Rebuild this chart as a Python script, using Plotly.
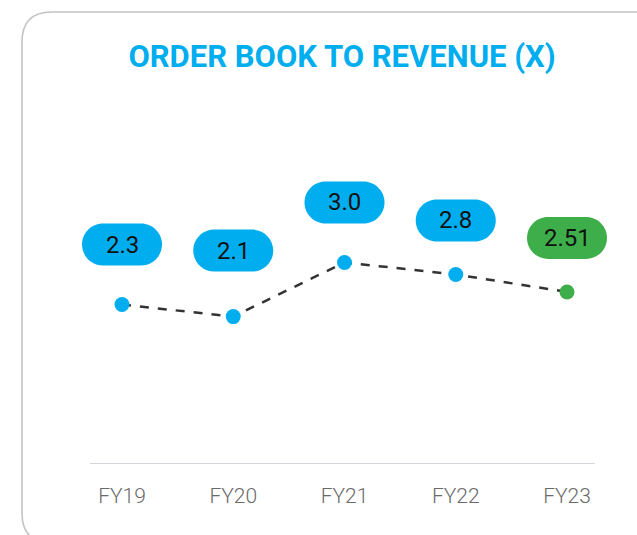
import plotly.graph_objects as go

categories = ["FY19", "FY20", "FY21", "FY22", "FY23"]
values = [2.3, 2.1, 3.0, 2.8, 2.51]
labels = ["2.3", "2.1", "3.0", "2.8", "2.51"]
title_text = "ORDER BOOK TO REVENUE (X)"

BLUE = "#00AEEF"
GREEN = "#3DAE4A"
point_colors = [BLUE, BLUE, BLUE, BLUE, GREEN]
label_shift = [60, 66, 60, 54, 54]  # pill offset above point (px)

W, H = 637, 535
ML, MR, MT, MB = 40, 10, 100, 71
PX_PER_CAT = 111.25
X0 = -(122 - ML) / PX_PER_CAT
X1 = X0 + (W - ML - MR) / PX_PER_CAT
AX_LEFT = -0.288
AX_RIGHT = 4.251
Y_RANGE = [-0.35, 5.70]

fig = go.Figure()
fig.add_trace(go.Scatter(
    x=list(range(len(categories))), y=values, mode="lines+markers",
    line=dict(color="#333333", width=2.5, dash="dash"),
    marker=dict(color=point_colors, size=15),
    hoverinfo="skip", showlegend=False,
))


def pill_path(w, h, cy):
    r = h / 2.0
    s = w / 2.0 - r
    k = 0.5523 * r
    return (f"M {-s},{cy - r} L {s},{cy - r} "
            f"C {s + k},{cy - r} {s + r},{cy - k} {s + r},{cy} "
            f"C {s + r},{cy + k} {s + k},{cy + r} {s},{cy + r} "
            f"L {-s},{cy + r} "
            f"C {-s - k},{cy + r} {-s - r},{cy + k} {-s - r},{cy} "
            f"C {-s - r},{cy - k} {-s - k},{cy - r} {-s},{cy - r} Z")


shapes = []
annotations = []
for i, (v, lab, col, sh) in enumerate(zip(values, labels, point_colors, label_shift)):
    shapes.append(dict(
        type="path", xref="x", yref="y", xsizemode="pixel", ysizemode="pixel",
        xanchor=i, yanchor=v, path=pill_path(80, 42, sh),
        fillcolor=col, line=dict(width=0), layer="above",
    ))
    annotations.append(dict(
        x=i, y=v, xref="x", yref="y", text=lab, showarrow=False,
        yshift=sh, font=dict(family="Roboto", size=24, color="#111111"),
    ))

# card border (rounded corners, extends beyond right/bottom edges)
R = 30
left = 22 - ML
BORDER = dict(color="#C4C4C4", width=1.6)
shapes.append(dict(
    type="path", xref="paper", yref="paper", xsizemode="pixel", ysizemode="pixel",
    xanchor=0, yanchor=1,
    path=(f"M {left},{-(513 - MT)} L {left},{-(12 + R - MT)} "
          f"Q {left},{-(12 - MT)} {left + R},{-(12 - MT)} L {W},{-(12 - MT)}"),
    line=BORDER, layer="below",
))
shapes.append(dict(
    type="path", xref="paper", yref="paper", xsizemode="pixel", ysizemode="pixel",
    xanchor=0, yanchor=1,
    path=f"M {left},{-(513 - MT)} Q {left},{-(543 - MT)} {left + R},{-(543 - MT)}",
    line=BORDER, layer="below",
))
# baseline (axis line)
shapes.append(dict(type="line", xref="x", yref="y", x0=AX_LEFT, x1=AX_RIGHT,
                   y0=Y_RANGE[0], y1=Y_RANGE[0],
                   line=dict(color="#C5C9CE", width=1.6), layer="below"))

fig.update_layout(
    width=W, height=H,
    margin=dict(l=ML, r=MR, t=MT, b=MB),
    paper_bgcolor="white", plot_bgcolor="white",
    title=dict(text=f"<b>{title_text}</b>", x=(342 - ML) / (W - ML - MR), xref="paper",
               xanchor="center",
               y=1 - 56 / H, yanchor="middle", yref="container",
               font=dict(family="Roboto", size=31, color=BLUE)),
    xaxis=dict(
        tickmode="array", tickvals=list(range(len(categories))), ticktext=categories,
        range=[X0, X1], showgrid=False, zeroline=False,
        showline=False, ticks="", ticklabelstandoff=17,
        tickfont=dict(family="Roboto", size=21, color="#6A6A6A", weight=300),
    ),
    yaxis=dict(range=Y_RANGE, visible=False, showgrid=False, zeroline=False),
    shapes=shapes,
    annotations=annotations,
)

fig.write_html(
    "out.html",
    config={"displayModeBar": False},
    post_script="document.body.style.margin='0';document.body.style.overflow='hidden';",
)
